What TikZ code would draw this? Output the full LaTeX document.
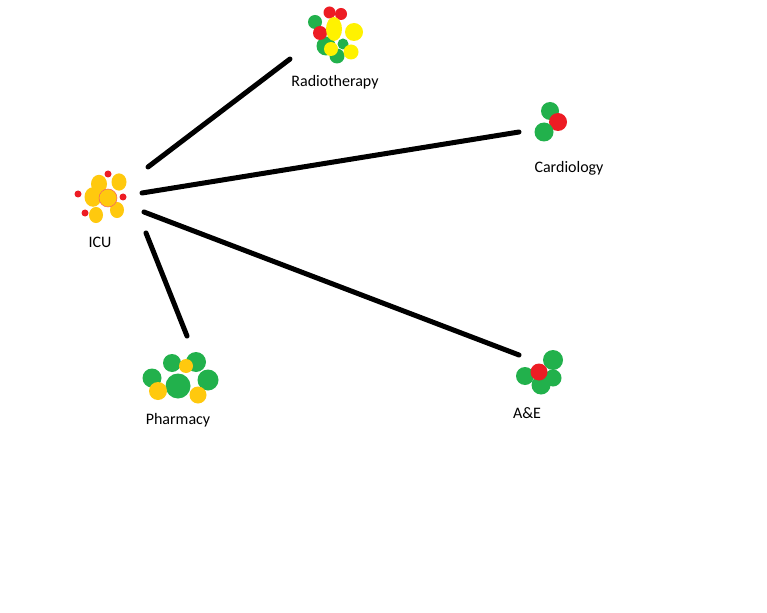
\documentclass[tikz,border=0pt]{standalone}
\usepackage{fontspec}
\setmainfont{Carlito}
\usetikzlibrary{calc,positioning}
\definecolor{paintgreen}{HTML}{22B14C}
\definecolor{paintred}{HTML}{ED1C24}
\definecolor{paintyellow}{HTML}{FFF200}
\definecolor{paintgold}{HTML}{FFC90E}
\tikzset{
  link/.style  = {line width=5pt, black, line cap=round},
  dept/.style  = {font=\fontsize{16}{19}\selectfont, inner sep=0pt, anchor=center},
  gblob/.style = {fill=paintgreen},
  rblob/.style = {fill=paintred},
  yblob/.style = {fill=paintyellow},
  oblob/.style = {fill=paintgold},
}

\begin{document}
\begin{tikzpicture}[x=1pt, y=-1pt]
  \fill[white] (0,0) rectangle (767,612);
  \useasboundingbox (0,0) rectangle (767,612);

  % cluster centres
  \coordinate (icu)  at (103,195);
  \coordinate (rad)  at (335,35);
  \coordinate (card) at (550,122);
  \coordinate (ae)   at (540,373);
  \coordinate (pharm) at (180,378);

  % ICU
  \foreach \dx/\dy/\r in {-4/-11/8, 16/-13/7.5, -10/2/8.5, -7/20/7, 14/15/7}
    \fill[oblob] ($(icu)+(\dx,\dy)$) ellipse [x radius=\r, y radius=1.15*\r];
  \fill[oblob, draw=paintred!70, line width=0.5pt] ($(icu)+(5,3)$) circle [radius=9];
  \foreach \dx/\dy in {5/-21, -25/-1, 20/2, -18/18}
    \fill[rblob] ($(icu)+(\dx,\dy)$) circle [radius=3.5];
  \node[dept] (icu-lbl) at (100,242) {ICU};

  % Radiotherapy
  \foreach \dx/\dy/\r in {-20/-13/7, -9/11/9.5, 2/21/7.5, 8/9/5.5}
    \fill[gblob] ($(rad)+(\dx,\dy)$) circle [radius=\r];
  \foreach \dx/\dy/\r in {-5.5/-22.5/6, 6/-21/6, -15/-2/7}
    \fill[rblob] ($(rad)+(\dx,\dy)$) circle [radius=\r];
  \fill[yblob] ($(rad)+(-1,-6)$) ellipse [x radius=8, y radius=12];
  \foreach \dx/\dy/\r in {19/-3/9, -4/14/7, 16/17/7.5}
    \fill[yblob] ($(rad)+(\dx,\dy)$) circle [radius=\r];
  \node[dept] (rad-lbl) at (335,82) {Radiotherapy};

  % Cardiology
  \fill[gblob] ($(card)+(0,-11)$) circle [radius=9];
  \fill[rblob] ($(card)+(8,0)$) circle [radius=9];
  \fill[gblob] ($(card)+(-6,10)$) circle [radius=9.5];
  \node[dept] (card-lbl) at (569,168) {Cardiology};

  % A&E
  \foreach \dx/\dy/\r in {13/-13/10, -15/3/9, 13/5/8.5, 1/12/9.5}
    \fill[gblob] ($(ae)+(\dx,\dy)$) circle [radius=\r];
  \fill[rblob] ($(ae)+(-1,-1)$) circle [radius=8.5];
  \node[dept] (ae-lbl) at (527,413) {A\&E};

  % Pharmacy
  \foreach \dx/\dy/\r in {-8/-15/9, 16/-16/10, -28/0/9.5, -2/8/12.5, 28/2/10.5}
    \fill[gblob] ($(pharm)+(\dx,\dy)$) circle [radius=\r];
  \foreach \dx/\dy/\r in {6/-12/7, -22/13/9, 18/17/8.5}
    \fill[oblob] ($(pharm)+(\dx,\dy)$) circle [radius=\r];
  \node[dept] (pharm-lbl) at (178,420) {Pharmacy};

  % connector ends
  \coordinate (icu-rad)   at ($(icu)+(45,-28)$);
  \coordinate (icu-card)  at ($(icu)+(39,-2)$);
  \coordinate (icu-ae)    at ($(icu)+(41,17)$);
  \coordinate (icu-pharm) at ($(icu)+(43,38)$);
  \coordinate (rad-end)   at ($(rad)+(-45,24)$);
  \coordinate (card-end)  at ($(card)+(-31,10)$);
  \coordinate (ae-end)    at ($(ae)+(-21,-18)$);
  \coordinate (pharm-end) at ($(pharm)+(7,-42)$);

  \draw[link] (icu-rad) -- (rad-end);
  \draw[link] (icu-card) -- (card-end);
  \draw[link] (icu-ae) -- (ae-end);
  \draw[link] (icu-pharm) -- (pharm-end);
\end{tikzpicture}
\end{document}
